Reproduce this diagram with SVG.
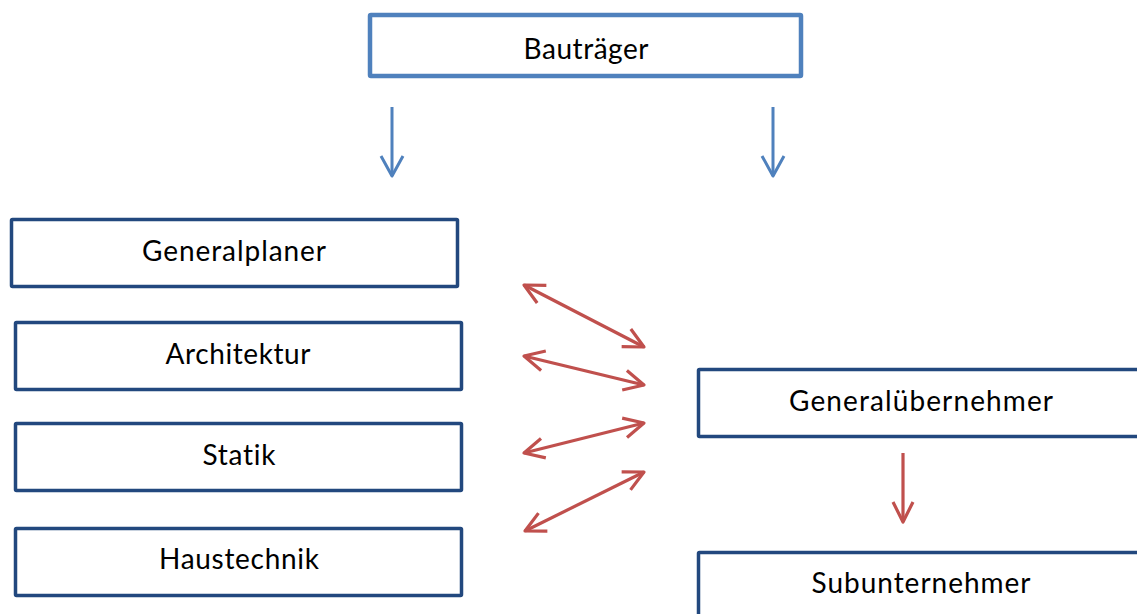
<svg xmlns="http://www.w3.org/2000/svg" width="1137" height="614" viewBox="0 0 1137 614">
  <defs>
    <style>
      .box { fill: #FFFFFF; stroke: #22487E; stroke-width: 3.5; }
      .top { fill: #FFFFFF; stroke: #4F81BD; stroke-width: 4.5; }
      .lbl { font-family: Lato, "Liberation Sans", sans-serif; font-size: 28px; fill: #000000; text-anchor: middle; font-variant-ligatures: none; font-feature-settings: "liga" 0, "clig" 0; }
      .blue { stroke: #4F81BD; stroke-width: 3; fill: none; }
      .red { stroke: #C0504D; stroke-width: 3.2; fill: none; }
    </style>
    <marker id="headBlue" markerUnits="userSpaceOnUse" markerWidth="30" markerHeight="30" viewBox="-25 -15 30 30" refX="0" refY="0" orient="auto-start-reverse" overflow="visible">
      <path d="M -20 -11 L 0 0 L -20 11" fill="none" stroke="#4F81BD" stroke-width="3" stroke-linejoin="round"/>
    </marker>
    <marker id="headRed" markerUnits="userSpaceOnUse" markerWidth="30" markerHeight="30" viewBox="-25 -15 30 30" refX="0" refY="0" orient="auto-start-reverse" overflow="visible">
      <path d="M -20 -10 L 0 0 L -20 10" fill="none" stroke="#C0504D" stroke-width="3.2" stroke-linejoin="round"/>
    </marker>
  </defs>
  <rect width="1137" height="614" fill="#FFFFFF"/>

  <g id="bautraeger">
    <rect class="top" x="370" y="15" width="431" height="61" rx="1"/>
    <text class="lbl" x="586" y="59" textLength="125" lengthAdjust="spacing">Bauträger</text>
  </g>

  <g id="generalplaner">
    <rect class="box" x="11.5" y="219.5" width="446" height="67" rx="1"/>
    <text class="lbl" x="234" y="261" textLength="184" lengthAdjust="spacing">Generalplaner</text>
  </g>

  <g id="architektur">
    <rect class="box" x="15.5" y="322.5" width="446" height="67" rx="1"/>
    <text class="lbl" x="238" y="364" textLength="145" lengthAdjust="spacing">Architektur</text>
  </g>

  <g id="statik">
    <rect class="box" x="15.5" y="423.5" width="446" height="67" rx="1"/>
    <text class="lbl" x="239" y="465" textLength="73" lengthAdjust="spacing">Statik</text>
  </g>

  <g id="haustechnik">
    <rect class="box" x="15.5" y="528.5" width="446" height="67" rx="1"/>
    <text class="lbl" x="239" y="569" textLength="160" lengthAdjust="spacing">Haustechnik</text>
  </g>

  <g id="generaluebernehmer">
    <rect class="box" x="698.5" y="369.5" width="460" height="67" rx="1"/>
    <text class="lbl" x="921" y="411" textLength="264" lengthAdjust="spacing">Generalübernehmer</text>
  </g>

  <g id="subunternehmer">
    <rect class="box" x="698.5" y="552.5" width="460" height="80" rx="1"/>
    <text class="lbl" x="921" y="593" textLength="219" lengthAdjust="spacing">Subunternehmer</text>
  </g>

  <g id="connectors">
    <line class="blue" x1="392" y1="107" x2="392" y2="176" marker-end="url(#headBlue)"/>
    <line class="blue" x1="773" y1="107" x2="773" y2="176" marker-end="url(#headBlue)"/>
    <line class="red" x1="903" y1="453" x2="903" y2="522" marker-end="url(#headRed)"/>
    <line class="red" x1="524" y1="285" x2="644" y2="347" marker-start="url(#headRed)" marker-end="url(#headRed)"/>
    <line class="red" x1="524" y1="356" x2="644" y2="385" marker-start="url(#headRed)" marker-end="url(#headRed)"/>
    <line class="red" x1="524" y1="453" x2="644" y2="423" marker-start="url(#headRed)" marker-end="url(#headRed)"/>
    <line class="red" x1="525" y1="531" x2="644" y2="472" marker-start="url(#headRed)" marker-end="url(#headRed)"/>
  </g>
</svg>
